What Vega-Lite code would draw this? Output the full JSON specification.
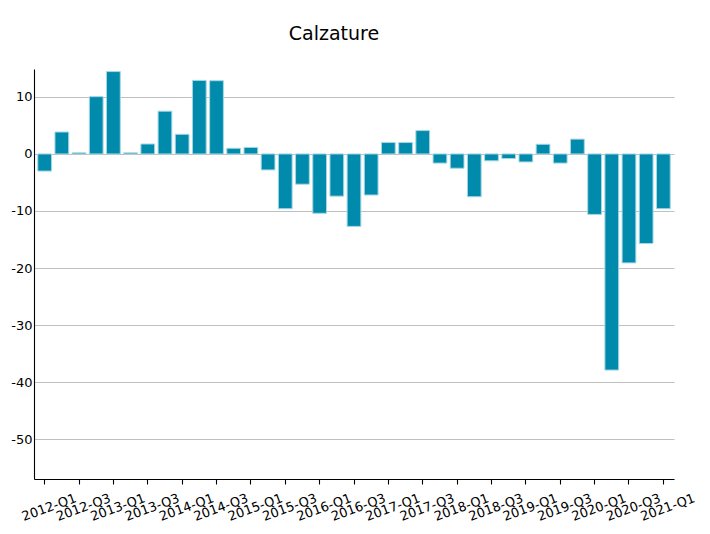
{
  "$schema": "https://vega.github.io/schema/vega-lite/v6.json",
  "width": 640,
  "height": 410,
  "autosize": {"type": "none"},
  "padding": {"left": 34, "top": 69, "right": 36, "bottom": 55},
  "background": "white",
  "title": {"text": "Calzature", "font": "DejaVu Sans", "fontSize": 19, "fontWeight": "normal", "color": "#000000", "anchor": "middle", "dx": -20, "baseline": "alphabetic", "offset": 10},
  "config": {"view": {"stroke": null}, "font": "DejaVu Sans"},
  "data": {"values": [
    {"q": "2012-Q1", "v": -3.0},
    {"q": "2012-Q2", "v": 3.85},
    {"q": "2012-Q3", "v": 0.2},
    {"q": "2012-Q4", "v": 10.05},
    {"q": "2013-Q1", "v": 14.45},
    {"q": "2013-Q2", "v": 0.2},
    {"q": "2013-Q3", "v": 1.75},
    {"q": "2013-Q4", "v": 7.5},
    {"q": "2014-Q1", "v": 3.45},
    {"q": "2014-Q2", "v": 12.9},
    {"q": "2014-Q3", "v": 12.85},
    {"q": "2014-Q4", "v": 1.0},
    {"q": "2015-Q1", "v": 1.15},
    {"q": "2015-Q2", "v": -2.8},
    {"q": "2015-Q3", "v": -9.6},
    {"q": "2015-Q4", "v": -5.3},
    {"q": "2016-Q1", "v": -10.4},
    {"q": "2016-Q2", "v": -7.4},
    {"q": "2016-Q3", "v": -12.7},
    {"q": "2016-Q4", "v": -7.2},
    {"q": "2017-Q1", "v": 2.0},
    {"q": "2017-Q2", "v": 2.0},
    {"q": "2017-Q3", "v": 4.1},
    {"q": "2017-Q4", "v": -1.6},
    {"q": "2018-Q1", "v": -2.5},
    {"q": "2018-Q2", "v": -7.5},
    {"q": "2018-Q3", "v": -1.2},
    {"q": "2018-Q4", "v": -0.8},
    {"q": "2019-Q1", "v": -1.4},
    {"q": "2019-Q2", "v": 1.7},
    {"q": "2019-Q3", "v": -1.6},
    {"q": "2019-Q4", "v": 2.6},
    {"q": "2020-Q1", "v": -10.6},
    {"q": "2020-Q2", "v": -37.9},
    {"q": "2020-Q3", "v": -19.1},
    {"q": "2020-Q4", "v": -15.7},
    {"q": "2021-Q1", "v": -9.6}
  ]},
  "mark": {"type": "bar", "fill": "#008aab", "stroke": "#a6d6e4", "strokeWidth": 1},
  "encoding": {
    "x": {
      "field": "q", "type": "ordinal", "sort": null,
      "scale": {"paddingInner": 0.2, "paddingOuter": 0.22},
      "axis": {
        "title": null,
        "values": ["2012-Q1","2012-Q3","2013-Q1","2013-Q3","2014-Q1","2014-Q3","2015-Q1","2015-Q3","2016-Q1","2016-Q3","2017-Q1","2017-Q3","2018-Q1","2018-Q3","2019-Q1","2019-Q3","2020-Q1","2020-Q3","2021-Q1"],
        "labelAngle": -20, "labelAlign": "center", "labelBaseline": "middle",
        "labelPadding": 23, "labelOffset": 4.5, "labelFont": "DejaVu Sans", "labelFontSize": 13, "labelColor": "#000000",
        "labelOverlap": false, "labelBound": false, "labelFlush": false,
        "domainColor": "#000000", "domainWidth": 1.1,
        "tickColor": "#000000", "tickWidth": 1.1, "tickSize": 5,
        "grid": false
      }
    },
    "y": {
      "field": "v", "type": "quantitative",
      "scale": {"domain": [-57.0, 14.9], "nice": false, "zero": false},
      "axis": {
        "title": null,
        "values": [10, 0, -10, -20, -30, -40, -50],
        "labelExpr": "toString(datum.value)",
        "labelFont": "DejaVu Sans", "labelFontSize": 13, "labelColor": "#000000", "labelPadding": 2,
        "ticks": false,
        "domainColor": "#000000", "domainWidth": 1.1,
        "grid": true, "gridColor": "#b0b0b0", "gridWidth": 0.8
      }
    }
  }
}
